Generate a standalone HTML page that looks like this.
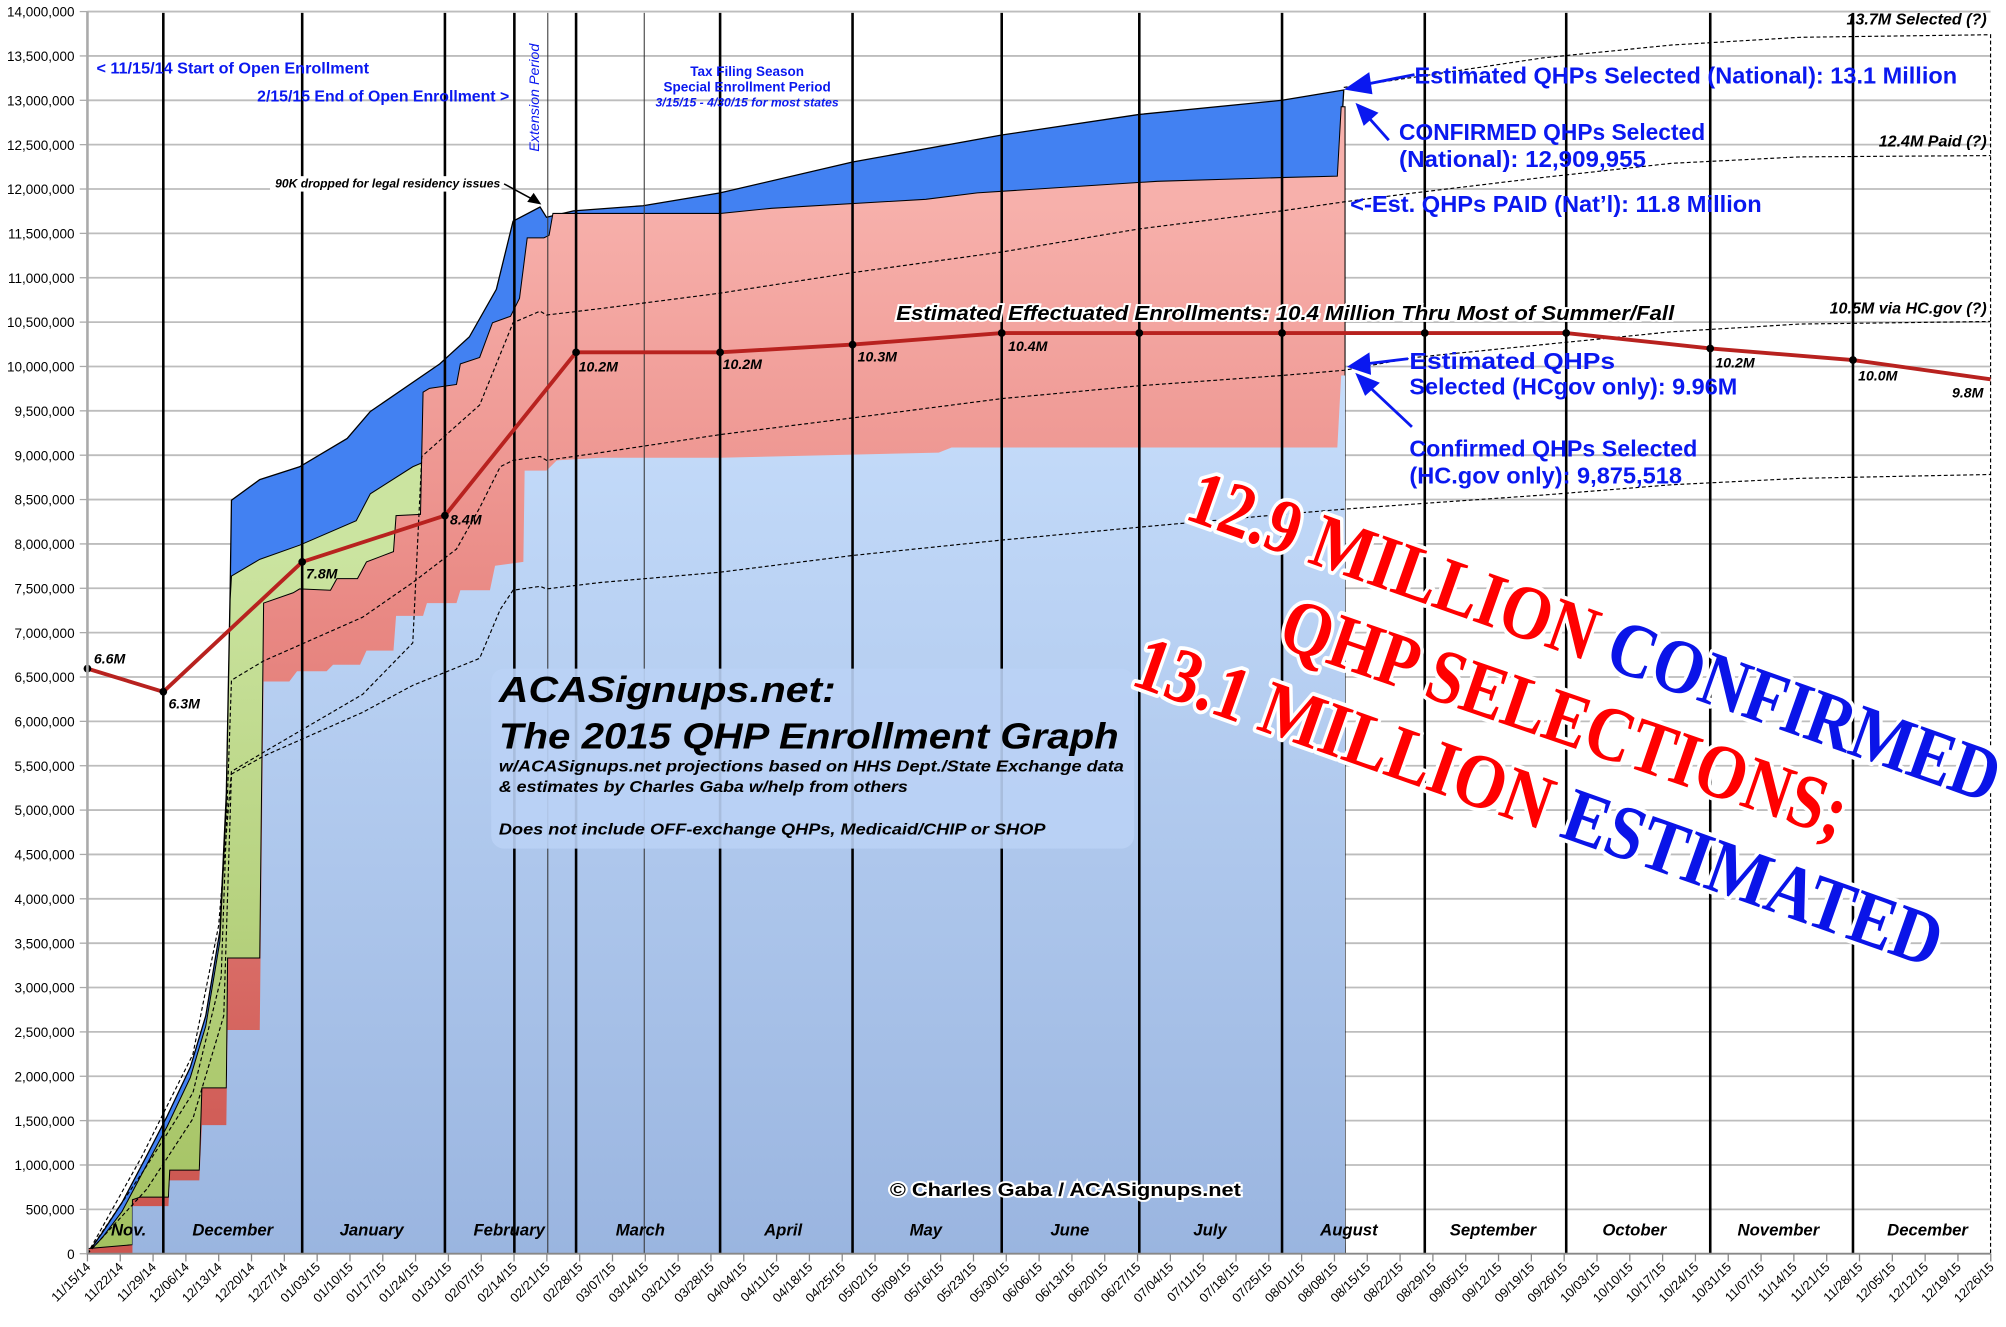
<!DOCTYPE html>
<html><head><meta charset="utf-8">
<style>
html,body{margin:0;padding:0;background:#fff;}
svg{display:block;}
text{font-family:"Liberation Sans",sans-serif;}
.bi{font-weight:bold;font-style:italic;}
.blue{fill:#0a18f0;}
.st{font-family:"Liberation Serif",serif;font-weight:bold;stroke:#fff;stroke-width:6;paint-order:stroke;stroke-linejoin:round;}
</style></head>
<body>
<svg id="s" width="2006" height="1327" viewBox="0 0 1560 1032" preserveAspectRatio="none" xmlns="http://www.w3.org/2000/svg">
<defs>
<linearGradient id="lb" gradientUnits="userSpaceOnUse" x1="0" y1="290" x2="0" y2="975">
<stop offset="0" stop-color="#c6ddfb"/><stop offset="1" stop-color="#9ab5e0"/></linearGradient>
<linearGradient id="pk" gradientUnits="userSpaceOnUse" x1="0" y1="160" x2="0" y2="950">
<stop offset="0" stop-color="#f7b0ab"/><stop offset="0.4" stop-color="#e98984"/><stop offset="1" stop-color="#cc554f"/></linearGradient>
<linearGradient id="gr" gradientUnits="userSpaceOnUse" x1="0" y1="430" x2="0" y2="975">
<stop offset="0" stop-color="#cbe4a0"/><stop offset="1" stop-color="#a3c160"/></linearGradient>
</defs>
<g id="grid"></g>
<polygon fill="#4281f2" stroke="#000" stroke-width="1" points="68,975 80,958 95,935 114,899 130,868 148,830 160,790 171,724 176,617 179,458 180,389 202,373 233,363 270,341 288,320 342,283 365,262 386,225 399,172 420,161 425,169 446,164 500,160 560,150 663,126 779,105 886,89 997,78 1045,70 1041,137 1046,975"/>
<polygon fill="url(#gr)" stroke="#000" stroke-width="0.8" points="68,975 80,962 95,942 114,906 130,876 148,838 160,798 171,732 176,625 179,466 180,448 202,435 233,424 277,405 288,384 321,363 328,360 330,975"/>
<polygon fill="url(#pk)" stroke="#000" stroke-width="0.8" points="68,975 68,971 103,968 103,933 109,931 131,931 132,910 155,910 157,846 176,846 177,745 202,745 205,469 228,461 233,458 257,459 262,450 278,450 285,437 306,429 308,401 327,400 329,305 334,302 355,299 358,283 373,278 383,251 397,246 404,232 410,185 423,185 427,183 430,166 560,166 600,162 720,155 760,150 900,141 1000,138 1040,137 1043,83 1046,83 1046,975"/>
<polygon fill="url(#lb)" points="68,975 103,975 103,938 131,938 132,918 155,918 157,875 176,875 177,801 202,801 205,530 225,530 231,522 254,522 259,517 280,517 285,506 306,506 308,479 329,479 332,469 355,469 358,459 381,459 385,440 407,437 408,366 425,366 433,358 467,356 560,356 730,352 740,348 1040,348 1043,292 1046,292 1046,975"/>
<g stroke="#000" stroke-width="2">
<line x1="127" y1="10" x2="127" y2="975"/><line x1="235" y1="10" x2="235" y2="975"/><line x1="346" y1="10" x2="346" y2="975"/><line x1="400" y1="10" x2="400" y2="975"/><line x1="448" y1="10" x2="448" y2="975"/><line x1="560" y1="10" x2="560" y2="975"/><line x1="663" y1="10" x2="663" y2="975"/><line x1="779" y1="10" x2="779" y2="975"/><line x1="886" y1="10" x2="886" y2="975"/><line x1="997" y1="10" x2="997" y2="975"/><line x1="1108" y1="10" x2="1108" y2="975"/><line x1="1218" y1="10" x2="1218" y2="975"/><line x1="1330" y1="10" x2="1330" y2="975"/><line x1="1441" y1="10" x2="1441" y2="975"/>
</g>
<g stroke="#333" stroke-width="0.8"><line x1="426" y1="10" x2="426" y2="975"/><line x1="501" y1="10" x2="501" y2="975"/></g>
<g fill="none" stroke="#000" stroke-width="0.9" stroke-dasharray="3,2">
<polyline points="1045,68 1100,60 1200,45 1300,35 1400,29 1548,27 1548,975"/>
<polyline points="68,975 110,900 150,820 170,720 180,600 205,585 282,540 321,500 328,355 373,315 386,283 399,251 420,242 425,245 467,240 560,228 663,212 779,196 886,178 997,164 1045,157 1100,150 1200,138 1300,127 1400,122 1548,121"/>
<polyline points="68,975 112,910 150,850 172,760 180,529 205,514 282,480 321,453 355,427 373,395 389,363 399,358 420,355 425,358 467,352 560,338 663,325 779,310 886,300 997,292 1045,288 1100,278 1200,268 1300,258 1400,252 1548,250"/>
<polyline points="68,975 114,925 150,870 174,790 180,602 205,588 282,554 321,533 373,512 389,474 399,459 420,456 425,458 467,453 560,445 663,432 779,420 886,410 997,400 1045,396 1100,392 1200,385 1300,377 1400,372 1548,369"/>
</g>
<polyline fill="none" stroke="#b8221f" stroke-width="3" points="68,520 127,538 235,437 346,401 448,274 560,274 663,268 779,259 886,259 997,259 1108,259 1218,259 1330,271 1441,280 1548,295"/>
<g fill="#000"><circle cx="68" cy="520" r="3"/><circle cx="127" cy="538" r="3"/><circle cx="235" cy="437" r="3"/><circle cx="346" cy="401" r="3"/><circle cx="448" cy="274" r="3"/><circle cx="560" cy="274" r="3"/><circle cx="663" cy="268" r="3"/><circle cx="779" cy="259" r="3"/><circle cx="886" cy="259" r="3"/><circle cx="997" cy="259" r="3"/><circle cx="1108" cy="259" r="3"/><circle cx="1218" cy="259" r="3"/><circle cx="1330" cy="271" r="3"/><circle cx="1441" cy="280" r="3"/></g>
<g class="bi" font-size="11">
<text x="73" y="516">6.6M</text><text x="131" y="551">6.3M</text><text x="238" y="450">7.8M</text><text x="350" y="408">8.4M</text><text x="450" y="289">10.2M</text><text x="562" y="287">10.2M</text><text x="667" y="281">10.3M</text><text x="784" y="273">10.4M</text><text x="1334" y="286">10.2M</text><text x="1445" y="296">10.0M</text><text x="1518" y="309">9.8M</text>
</g>
<line x1="68" y1="9" x2="68" y2="975" stroke="#aaa" stroke-width="2"/>
<line x1="68" y1="975" x2="1548" y2="975" stroke="#888" stroke-width="1.5"/>
<g id="labels"></g>
<g class="bi" font-size="13" text-anchor="middle">
<text x="100" y="961">Nov.</text><text x="181" y="961">December</text><text x="289" y="961">January</text><text x="396" y="961">February</text><text x="498" y="961">March</text><text x="609" y="961">April</text><text x="720" y="961">May</text><text x="832" y="961">June</text><text x="941" y="961">July</text><text x="1049" y="961">August</text><text x="1161" y="961">September</text><text x="1271" y="961">October</text><text x="1383" y="961">November</text><text x="1499" y="961">December</text>
</g>
<g class="blue" font-weight="bold" font-size="12.5">
<text x="75" y="57" textLength="212" lengthAdjust="spacingAndGlyphs">&lt; 11/15/14 Start of Open Enrollment</text>
<text x="200" y="79" textLength="196" lengthAdjust="spacingAndGlyphs">2/15/15 End of Open Enrollment &gt;</text>
</g>
<text class="blue" font-style="italic" font-size="11" transform="translate(419,118) rotate(-90)" textLength="84" lengthAdjust="spacingAndGlyphs">Extension Period</text>
<g class="blue" font-size="10.5" text-anchor="middle">
<text x="581" y="59" font-weight="bold">Tax Filing Season</text>
<text x="581" y="71" font-weight="bold">Special Enrollment Period</text>
<text x="581" y="83" font-style="italic" font-weight="bold" font-size="9.5">3/15/15 - 4/30/15 for most states</text>
</g>
<rect x="210" y="137" width="180" height="12" fill="#fff"/>
<text x="214" y="146" class="bi" font-size="9" textLength="175" lengthAdjust="spacingAndGlyphs">90K dropped for legal residency issues</text>
<line x1="392" y1="143" x2="416" y2="156" stroke="#000" stroke-width="1.2"/>
<polygon points="421,159 410,157 415,150" fill="#000"/>
<g class="blue" font-size="18" font-weight="bold">
<text x="1100" y="65" textLength="422" lengthAdjust="spacingAndGlyphs">Estimated QHPs Selected (National): 13.1 Million</text>
<text x="1088" y="109" textLength="238" lengthAdjust="spacingAndGlyphs">CONFIRMED QHPs Selected</text>
<text x="1088" y="130" textLength="192" lengthAdjust="spacingAndGlyphs">(National): 12,909,955</text>
<text x="1050" y="165" textLength="320" lengthAdjust="spacingAndGlyphs">&lt;-Est. QHPs PAID (Nat’l): 11.8 Million</text>
<text x="1096" y="287" textLength="160" lengthAdjust="spacingAndGlyphs">Estimated QHPs</text>
<text x="1096" y="307" textLength="255" lengthAdjust="spacingAndGlyphs">Selected (HCgov only): 9.96M</text>
<text x="1096" y="355" textLength="224" lengthAdjust="spacingAndGlyphs">Confirmed QHPs Selected</text>
<text x="1096" y="376" textLength="212" lengthAdjust="spacingAndGlyphs">(HC.gov only): 9,875,518</text>
</g>
<g stroke="#0a18f0" stroke-width="2.2" fill="#0a18f0">
<line x1="1100" y1="58" x2="1060" y2="66"/><polygon points="1048,69 1064,58 1066,72"/>
<line x1="1080" y1="109" x2="1064" y2="91"/><polygon points="1056,82 1070,88 1061,96"/>
<line x1="1095" y1="279" x2="1062" y2="283"/><polygon points="1050,285 1064,276 1065,290"/>
<line x1="1098" y1="332" x2="1064" y2="300"/><polygon points="1056,292 1071,298 1062,306"/>
</g>
<g class="bi" font-size="12.5" text-anchor="end">
<text x="1545" y="19">13.7M Selected (?)</text>
<text x="1545" y="114">12.4M Paid (?)</text>
<text x="1545" y="244">10.5M via HC.gov (?)</text>
</g>
<text x="697" y="249" class="bi" font-size="15.5" textLength="605" lengthAdjust="spacingAndGlyphs" stroke="#fff" stroke-width="3" paint-order="stroke">Estimated Effectuated Enrollments: 10.4 Million Thru Most of Summer/Fall</text>
<rect x="382" y="520" width="500" height="140" rx="10" fill="#bad2f5" opacity="0.9"/>
<g class="bi">
<text x="388" y="546" font-size="28" textLength="262" lengthAdjust="spacingAndGlyphs">ACASignups.net:</text>
<text x="388" y="582" font-size="28" textLength="482" lengthAdjust="spacingAndGlyphs">The 2015 QHP Enrollment Graph</text>
<text x="388" y="600" font-size="12.5" textLength="486" lengthAdjust="spacingAndGlyphs">w/ACASignups.net projections based on HHS Dept./State Exchange data</text>
<text x="388" y="616" font-size="12.5" textLength="318" lengthAdjust="spacingAndGlyphs">&amp; estimates by Charles Gaba w/help from others</text>
<text x="388" y="649" font-size="12.5" textLength="425" lengthAdjust="spacingAndGlyphs">Does not include OFF-exchange QHPs, Medicaid/CHIP or SHOP</text>
</g>
<text x="692" y="930" font-weight="bold" font-size="14.5" textLength="273" lengthAdjust="spacingAndGlyphs" stroke="#fff" stroke-width="3" paint-order="stroke">© Charles Gaba / ACASignups.net</text>
<text class="st" font-size="60" transform="translate(920,403) rotate(19.5)" textLength="665" lengthAdjust="spacingAndGlyphs"><tspan fill="#f00">12.9 MILLION</tspan><tspan fill="#0a14e8"> CONFIRMED</tspan></text>
<text class="st" font-size="60" fill="#f00" transform="translate(992,502) rotate(19)" textLength="462" lengthAdjust="spacingAndGlyphs">QHP SELECTIONS;</text>
<text class="st" font-size="60" transform="translate(878,532) rotate(19.5)" textLength="662" lengthAdjust="spacingAndGlyphs"><tspan fill="#f00">13.1 MILLION</tspan><tspan fill="#0a14e8"> ESTIMATED</tspan></text>
</svg>
<script>
(function(){
var NS="http://www.w3.org/2000/svg";
var g=document.getElementById("grid"), L=document.getElementById("labels");
function el(t,a,p){var e=document.createElementNS(NS,t);for(var k in a)e.setAttribute(k,a[k]);p.appendChild(e);return e;}
for(var i=0;i<=28;i++){
 var y=975-i*34.5;
 if(i>0) el("line",{x1:68,y1:y,x2:1548,y2:y,stroke:"#bdbdbd","stroke-width":1.4},g);
 el("line",{x1:62,y1:y,x2:68,y2:y,stroke:"#aaa","stroke-width":1},L);
 var v=i*500000, s=v.toString().replace(/\B(?=(\d{3})+(?!\d))/g,",");
 var t=el("text",{x:58,y:y+4,"text-anchor":"end","font-size":"10.5"},L); t.textContent=s;
}
var d=new Date(2014,10,15);
for(var w=0;w<=58;w++){
 var x=68+w*25.52;
 el("line",{x1:x,y1:975,x2:x,y2:981,stroke:"#888","stroke-width":1},L);
 var dd=new Date(d.getTime()+w*7*86400000+3600000*3);
 var lab=("0"+(dd.getMonth()+1)).slice(-2)+"/"+("0"+dd.getDate()).slice(-2)+"/"+String(dd.getFullYear()).slice(-2);
 var t=el("text",{x:0,y:0,"text-anchor":"end","font-size":"10",transform:"translate("+(x+3)+",986) rotate(-45)"},L);
 t.textContent=lab;
}
})();
</script>
</body></html>
